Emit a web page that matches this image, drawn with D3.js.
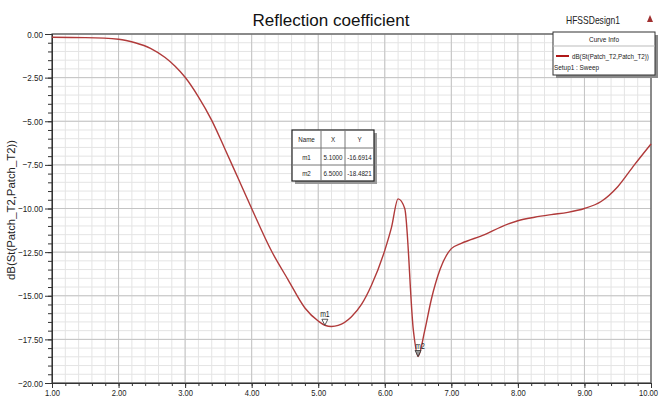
<!DOCTYPE html>
<html>
<head>
<meta charset="utf-8">
<script src="https://cdn.jsdelivr.net/npm/d3@7"></script>
<style>
  body { margin: 0; background: #fff; }
  text { font-family: "Liberation Sans", Arial, sans-serif; }
</style>
</head>
<body>
<script>
// data
var freq = [1.0, 1.5, 2.0, 2.25, 2.48, 2.7, 2.85, 3.0, 3.2, 3.4, 3.6, 3.8, 4.0, 4.3, 4.55, 4.8, 5.0, 5.1, 5.2, 5.3, 5.5, 5.65, 5.8, 6.0, 6.1, 6.2, 6.3, 6.43, 6.5, 6.6, 6.7, 6.83, 7.0, 7.15, 7.5, 7.75, 8.0, 8.25, 8.5, 8.75, 9.0, 9.25, 9.5, 9.75, 10.0];
var s11 = [-0.19, -0.21, -0.3, -0.5, -0.82, -1.35, -1.85, -2.48, -3.6, -4.95, -6.6, -8.3, -10.0, -12.45, -14.1, -15.7, -16.45, -16.69, -16.76, -16.7, -16.2, -15.5, -14.4, -12.4, -11.1, -9.45, -10.0, -17.0, -18.48, -17.0, -15.2, -13.5, -12.3, -12.0, -11.5, -11.05, -10.7, -10.5, -10.35, -10.22, -10.0, -9.6, -8.75, -7.5, -6.3];
var xTicks = [1, 2, 3, 4, 5, 6, 7, 8, 9, 10];
var yTicks = [0, -2.5, -5, -7.5, -10, -12.5, -15, -17.5, -20];
var markerNames = ["m1", "m2"];
var markerX = [5.1, 6.5];
var markerY = [-16.6914, -18.4821];

var width = 659, height = 399;
var m = {left: 52, right: 8, top: 34, bottom: 16};

var svg = d3.select('body').append('svg').attr('width', width).attr('height', height);

// squeeze text to look like the narrow font of the original
function narrow(sel, f) {
  sel.each(function() {
    var w = this.getComputedTextLength();
    d3.select(this).attr('textLength', w * f).attr('lengthAdjust', 'spacingAndGlyphs');
  });
}

var x = d3.scaleLinear().domain([1, 10]).range([m.left, width - m.right]);
var y = d3.scaleLinear().domain([0, -20]).range([m.top, height - m.bottom]);

// minor grid
var gx = d3.range(1, 10.001, 0.2);
var gy = d3.range(0, -20.001, -0.5);
svg.append('g').selectAll('line').data(gx).enter().append('line')
  .attr('x1', d => x(d)).attr('x2', d => x(d))
  .attr('y1', y(0)).attr('y2', y(-20))
  .attr('stroke', '#e4e4e4').attr('stroke-width', 1);
svg.append('g').selectAll('line').data(gy).enter().append('line')
  .attr('y1', d => y(d)).attr('y2', d => y(d))
  .attr('x1', x(1)).attr('x2', x(10))
  .attr('stroke', '#e4e4e4').attr('stroke-width', 1);
// major grid
svg.append('g').selectAll('line').data(xTicks).enter().append('line')
  .attr('x1', d => x(d)).attr('x2', d => x(d))
  .attr('y1', y(0)).attr('y2', y(-20))
  .attr('stroke', '#c4c4c4').attr('stroke-width', 1);
svg.append('g').selectAll('line').data(yTicks).enter().append('line')
  .attr('y1', d => y(d)).attr('y2', d => y(d))
  .attr('x1', x(1)).attr('x2', x(10))
  .attr('stroke', '#c4c4c4').attr('stroke-width', 1);

// frame
svg.append('rect').attr('x', x(1)).attr('y', y(0))
  .attr('width', x(10) - x(1)).attr('height', y(-20) - y(0))
  .attr('fill', 'none').attr('stroke', '#555').attr('stroke-width', 1.2);

// axes
var xAxis = svg.append('g').attr('transform', 'translate(0,' + y(-20) + ')')
  .call(d3.axisBottom(x).tickValues(xTicks).tickSize(5).tickFormat(d3.format('.2f')));
svg.append('g').attr('transform', 'translate(0,' + y(-20) + ')')
  .call(d3.axisBottom(x).tickValues(gx).tickSize(3).tickFormat(''));
var yAxis = svg.append('g').attr('transform', 'translate(' + x(1) + ',0)')
  .call(d3.axisLeft(y).tickValues(yTicks).tickSize(7).tickFormat(d3.format('.2f')));
svg.append('g').attr('transform', 'translate(' + x(1) + ',0)')
  .call(d3.axisLeft(y).tickValues(gy).tickSize(4).tickFormat(''));
svg.selectAll('.domain').attr('stroke', '#333');
svg.selectAll('.tick line').attr('stroke', '#333');
xAxis.selectAll('text').attr('font-size', 9.5).attr('fill', '#222').attr('dy', '0.55em')
  .attr('font-family', '"Liberation Sans", Arial');
yAxis.selectAll('text').attr('font-size', 9.5).attr('fill', '#222').attr('dx', '0.1em')
  .attr('font-family', '"Liberation Sans", Arial');
narrow(xAxis.selectAll('text'), 0.8);
narrow(yAxis.selectAll('text'), 0.85);
xAxis.selectAll('.tick').filter(d => d == 10).select('text')
  .attr('font-size', 8.5).attr('x', -3);

// curve
var pts = freq.map((f, i) => [f, s11[i]]);
svg.append('path').datum(pts)
  .attr('d', d3.line().x(d => x(d[0])).y(d => y(d[1])).curve(d3.curveMonotoneX))
  .attr('fill', 'none').attr('stroke', '#b03a3a').attr('stroke-width', 1.4);

// markers
markerNames.forEach(function(n, i) {
  var px = x(markerX[i]), py = y(markerY[i]);
  svg.append('path')
    .attr('d', 'M' + (px - 3) + ',' + (py - 6) + 'L' + (px + 3) + ',' + (py - 6) + 'L' + px + ',' + py + 'Z')
    .attr('fill', i == 1 ? '#999' : '#fff').attr('stroke', '#333').attr('stroke-width', 0.8);
  var t = svg.append('text').attr('x', px + (i == 1 ? 2 : 0)).attr('y', py - 8).attr('text-anchor', 'middle')
    .attr('font-size', 8.5).attr('fill', '#222').text(n);
  narrow(t, 0.8);
});

// title
svg.append('text').attr('x', 331).attr('y', 26).attr('text-anchor', 'middle')
  .attr('font-size', 16.5).attr('fill', '#111').text('Reflection coefficient')
  .attr('textLength', 157).attr('lengthAdjust', 'spacingAndGlyphs');
svg.append('text').attr('x', 566).attr('y', 24)
  .attr('font-size', 10.5).attr('fill', '#222').text('HFSSDesign1')
  .attr('textLength', 54).attr('lengthAdjust', 'spacingAndGlyphs');
svg.append('path').attr('d', 'M647,22 L650,15 L653,22 Z').attr('fill', '#a03030');

// y label
svg.append('text').attr('transform', 'translate(15,210) rotate(-90)')
  .attr('text-anchor', 'middle').attr('font-size', 10).attr('fill', '#222')
  .attr('textLength', 140).attr('lengthAdjust', 'spacingAndGlyphs')
  .text('dB(St(Patch_T2,Patch_T2))');

// legend
var lg = svg.append('g').attr('transform', 'translate(553,32)');
lg.append('rect').attr('x', 3).attr('y', 3).attr('width', 102).attr('height', 43).attr('fill', '#8a8a8a');
lg.append('rect').attr('width', 102).attr('height', 43).attr('fill', '#fff').attr('stroke', '#333');
lg.append('line').attr('x1', 0).attr('x2', 102).attr('y1', 14).attr('y2', 14).attr('stroke', '#bbb');
lg.append('text').attr('x', 51).attr('y', 10).attr('text-anchor', 'middle').attr('font-size', 8).attr('fill', '#222')
  .attr('textLength', 30).attr('lengthAdjust', 'spacingAndGlyphs').text('Curve Info');
lg.append('line').attr('x1', 3).attr('x2', 16).attr('y1', 24).attr('y2', 24).attr('stroke', '#b01818').attr('stroke-width', 2);
lg.append('text').attr('transform', 'translate(19,27) scale(0.78,1)').attr('font-size', 8).attr('fill', '#222')
  .text('dB(St(Patch_T2,Patch_T2))');
lg.append('text').attr('transform', 'translate(1,38) scale(0.8,1)').attr('font-size', 8).attr('fill', '#222')
  .text('Setup1 : Sweep');

// marker table
var tb = svg.append('g').attr('transform', 'translate(292,130)');
var colX = [0, 29, 53, 82];
var rowY = [0, 18, 35, 51];
tb.append('rect').attr('x', 3).attr('y', 3).attr('width', 82).attr('height', 51).attr('fill', '#999');
tb.append('rect').attr('width', 82).attr('height', 51).attr('fill', '#fff').attr('stroke', '#222').attr('stroke-width', 1.2);
[1, 2].forEach(function(r) {
  tb.append('line').attr('x1', 0).attr('x2', 82).attr('y1', rowY[r]).attr('y2', rowY[r]).attr('stroke', '#777');
});
[1, 2].forEach(function(c) {
  tb.append('line').attr('x1', colX[c]).attr('x2', colX[c]).attr('y1', 0).attr('y2', 51).attr('stroke', '#777');
});
var rows = [['Name', 'X', 'Y']].concat(markerNames.map((n, i) => [n, markerX[i].toFixed(4), markerY[i].toFixed(4)]));
rows.forEach(function(row, r) {
  row.forEach(function(t, c) {
    var tx = tb.append('text').attr('x', (colX[c] + colX[c + 1]) / 2).attr('y', (rowY[r] + rowY[r + 1]) / 2 + 3)
      .attr('text-anchor', 'middle').attr('font-size', 8).attr('fill', '#222').text(t);
    narrow(tx, 0.78);
  });
});
</script>
</body>
</html>
